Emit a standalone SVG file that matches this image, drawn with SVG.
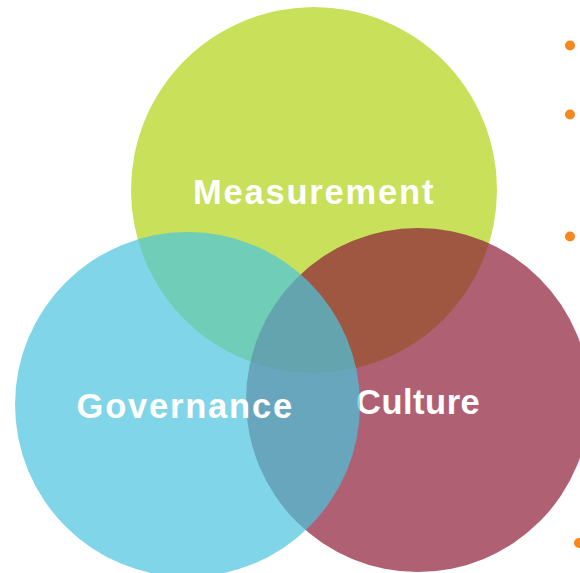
<svg xmlns="http://www.w3.org/2000/svg" width="580" height="573" viewBox="0 0 580 573">
  <style>
    .label { font-family: "Liberation Sans", Arial, sans-serif; font-weight: bold; font-size: 34.5px; fill: #FFFFFF; }
    .dot { fill: #F7871F; }
  </style>
  <rect x="0" y="0" width="580" height="573" fill="#FFFFFF"/>

  <!-- Measurement (bottom layer) -->
  <g id="measurement">
    <circle cx="314" cy="190" r="183" fill="#C8E05A"/>
    <text class="label" x="193" y="203.5" letter-spacing="1.8">Measurement</text>
  </g>

  <!-- Culture (translucent, over Measurement) -->
  <g id="culture">
    <circle cx="418" cy="400" r="172" fill="#8E1C38" fill-opacity="0.7"/>
    <text class="label" x="356" y="413.5" letter-spacing="0.5">Culture</text>
  </g>

  <!-- Governance (translucent, top layer) -->
  <g id="governance">
    <circle cx="187.5" cy="404.5" r="172.5" fill="#4AC4DE" fill-opacity="0.7"/>
    <text class="label" x="76.5" y="417.5" letter-spacing="1.8">Governance</text>
  </g>

  <!-- bullet dots along the right edge -->
  <g id="bullets">
    <circle class="dot" cx="570" cy="45.5" r="5"/>
    <circle class="dot" cx="570" cy="114.5" r="5"/>
    <circle class="dot" cx="570" cy="236.5" r="5"/>
    <circle class="dot" cx="579" cy="543" r="5"/>
  </g>
</svg>
